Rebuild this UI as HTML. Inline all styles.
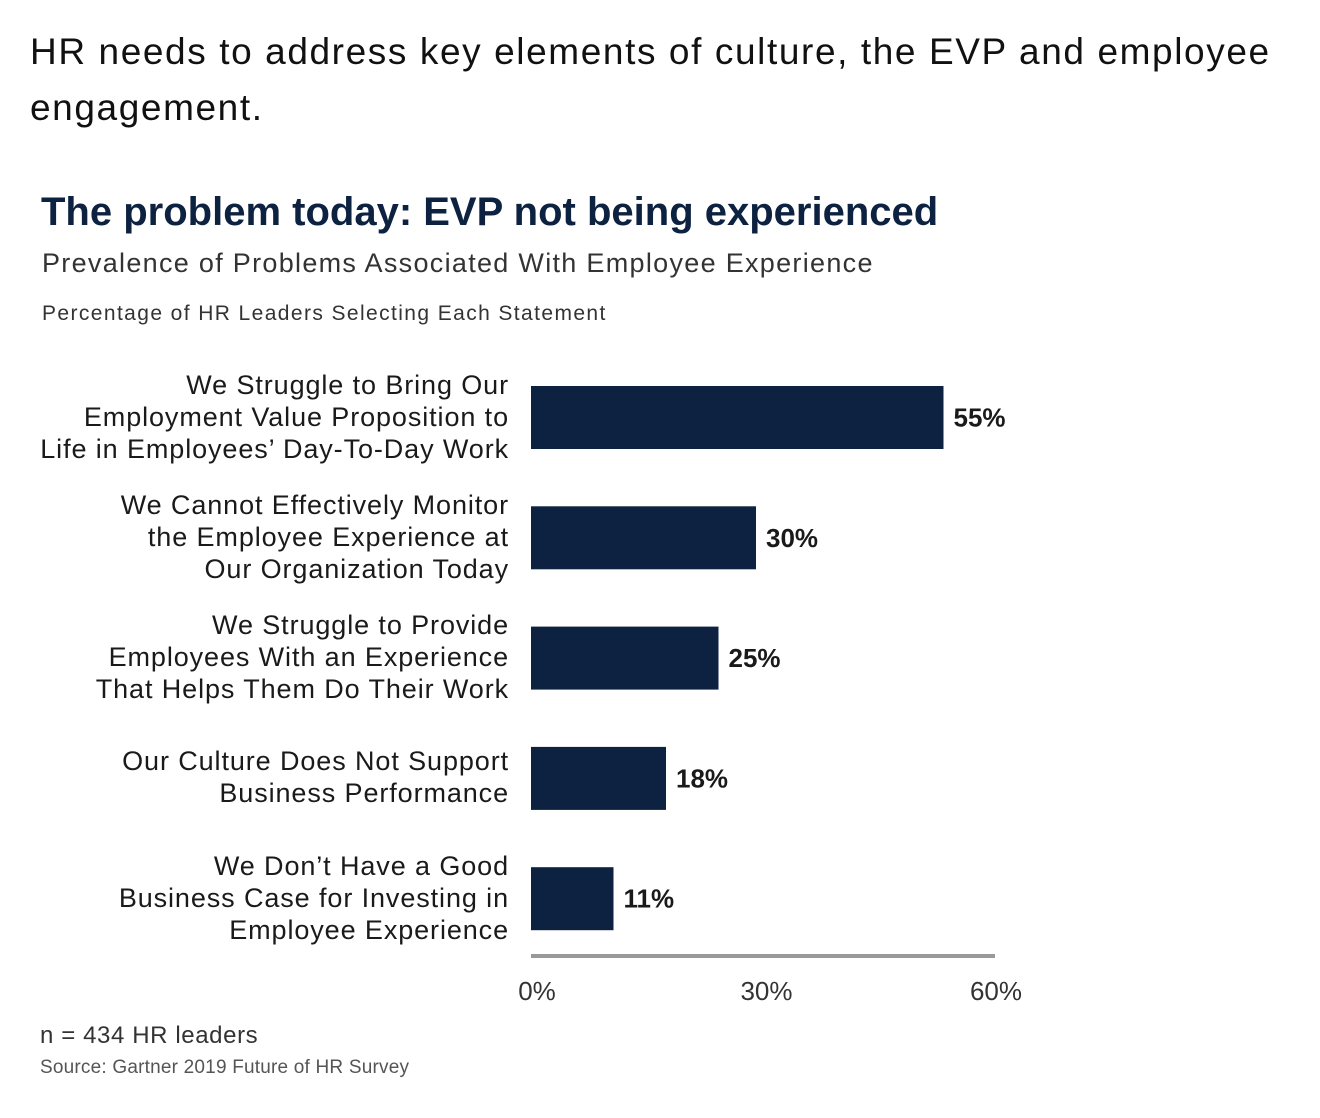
<!DOCTYPE html>
<html><head><meta charset="utf-8"><style>
body{margin:0;width:1320px;height:1118px;background:#fff;font-family:"Liberation Sans",sans-serif;overflow:hidden;position:relative}
.t{position:absolute;white-space:nowrap}
.lab{position:absolute;right:811px;text-align:right;font-size:27px;line-height:32px;color:#1a1a1a;white-space:nowrap;letter-spacing:0.9px}
</style></head><body>
<div class="t" style="left:30px;top:24px;font-size:37px;line-height:56px;color:#111;letter-spacing:1.6px">HR needs to address key elements of culture, the EVP and employee<br>engagement.</div>
<div class="t" style="left:41px;top:190px;font-size:40px;font-weight:bold;color:#0d2240">The problem today: EVP not being experienced</div>
<div class="t" style="left:42px;top:248px;font-size:27px;color:#333;letter-spacing:1.3px">Prevalence of Problems Associated With Employee Experience</div>
<div class="t" style="left:42px;top:302px;font-size:21px;color:#333;letter-spacing:1.4px">Percentage of HR Leaders Selecting Each Statement</div>
<svg id="chart" width="1320" height="1118" style="position:absolute;left:0;top:0"></svg>
<div id="labels"></div>
<div class="t" style="left:40px;top:1022px;font-size:24px;color:#333;letter-spacing:0.6px">n = 434 HR leaders</div>
<div class="t" style="left:40px;top:1057px;font-size:19px;color:#555;letter-spacing:0.2px">Source: Gartner 2019 Future of HR Survey</div>
<script>
const categories=[["We Struggle to Bring Our","Employment Value Proposition to","Life in Employees’ Day-To-Day Work"],["We Cannot Effectively Monitor","the Employee Experience at","Our Organization Today"],["We Struggle to Provide","Employees With an Experience","That Helps Them Do Their Work"],["Our Culture Does Not Support","Business Performance"],["We Don’t Have a Good","Business Case for Investing in","Employee Experience"]];
const values=[55,30,25,18,11];
const ticks=[0,30,60];
const ns="http://www.w3.org/2000/svg";
const svg=document.getElementById('chart');
const x=v=>531+v*7.5;
const yTop=i=>386+i*120.3;
const bh=63;
function mk(t,a){const e=document.createElementNS(ns,t);for(const k in a)e.setAttribute(k,a[k]);svg.appendChild(e);return e;}
values.forEach((v,i)=>{
 const r=mk('rect',{x:x(0),y:yTop(i),width:x(v)-x(0),height:bh,fill:'#0d2240'});
 
 
 const t=mk('text',{x:x(v)+10,y:yTop(i)+bh/2+9,'font-size':26,'font-weight':'bold',fill:'#1a1a1a','font-family':'Liberation Sans, sans-serif'});
 t.textContent=v+'%';
 
 
 const lines=categories[i];
 const d=document.createElement('div');
 d.className='lab';
 
 
 d.style.top=(yTop(i)+bh/2-lines.length*16-1)+'px';
 d.innerHTML=lines.join('<br>');
 document.getElementById('labels').appendChild(d);
});
const ax=mk('line',{x1:x(0),x2:995,y1:956,y2:956,stroke:'#999','stroke-width':4});


ticks.forEach(v=>{
 const t=mk('text',{x:x(v)+6+v*0.15,y:1000,'font-size':26,fill:'#333','text-anchor':'middle','font-family':'Liberation Sans, sans-serif'});
 t.textContent=v+'%';
 
 
});
</script>
</body></html>
